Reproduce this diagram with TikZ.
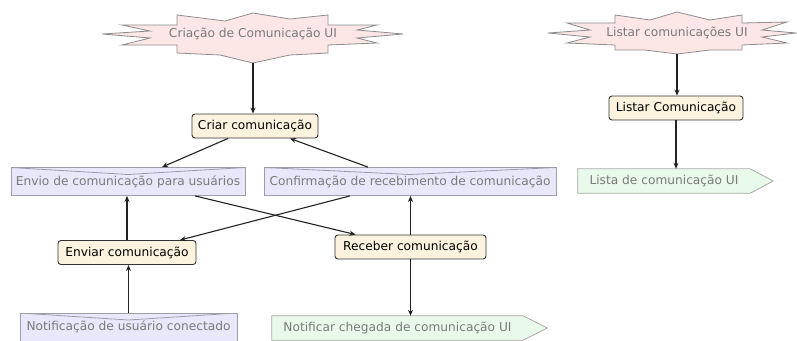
\documentclass[tikz,border=0pt]{standalone}
\usepackage{fontspec}
\setmainfont{DejaVu Sans}
\usetikzlibrary{arrows.meta,backgrounds}
\definecolor{boxfill}{HTML}{FCF3DF}
\definecolor{boxline}{HTML}{333333}
\definecolor{bluefill}{HTML}{E8E8FA}
\definecolor{blueline}{HTML}{9C9CAC}
\definecolor{greenfill}{HTML}{EAFAEA}
\definecolor{greenline}{HTML}{A8A8A8}
\definecolor{pinkfill}{HTML}{FDE6E6}
\definecolor{pinkline}{HTML}{8C8C8C}
\definecolor{greytext}{HTML}{7A7A7A}
\definecolor{conn}{HTML}{222222}
\tikzset{
  x=1pt, y=-1pt,
  every node/.style={font=\fontsize{12.2}{14}\selectfont, inner sep=0pt},
  actbox/.style={draw=boxline, fill=boxfill, rounded corners=3pt, line width=0.9pt, minimum height=24pt, text=black},
  docbox/.style={draw=blueline, fill=bluefill, line width=0.8pt, minimum height=28pt, text=greytext,
    path picture={\draw[blueline, line width=0.8pt] (path picture bounding box.north west) -- ([yshift=-7pt]path picture bounding box.north) -- (path picture bounding box.north east);}},
  sigtext/.style={minimum height=24pt, text=greytext},
  sigshape/.style={draw=greenline, fill=greenfill, line width=0.8pt},
  startext/.style={text=greytext},
  starshape/.style={draw=pinkline, fill=pinkfill, line width=0.8pt, line join=miter},
  flow/.style={draw=conn, line width=1.1pt, -{Stealth[length=6pt,width=5pt]}}
}
\begin{document}
\begin{tikzpicture}
\useasboundingbox (0,0) rectangle (797,340);
% star 1
\path[starshape] (177,15) -- (225,21) -- (253,13) -- (290,19) -- (328,15) -- (328,25) -- (377,25) -- (357,30) -- (403,34) -- (357,38) -- (377,43) -- (328,45) -- (328,53) -- (290,55) -- (253,63) -- (220,55) -- (177,53) -- (177,45) -- (122,45) -- (150,38) -- (102,34) -- (150,31) -- (122,25) -- (177,25) -- cycle;
\node[startext] (s1) at (253,34) {Criação de Comunicação UI};
\coordinate (s1b) at (253,63);
% star 2
\path[starshape] (615,15) -- (650,20) -- (677,12) -- (710,20) -- (742,15) -- (742,23) -- (787,22) -- (762,30) -- (796,33) -- (762,37) -- (787,43) -- (742,45) -- (742,50) -- (710,50) -- (677,54) -- (645,50) -- (615,50) -- (615,45) -- (567,43) -- (590,37) -- (548,33) -- (590,30) -- (567,23) -- (615,23) -- cycle;
\node[startext] (s2) at (677,33) {Listar comunicações UI};
\coordinate (s2b) at (677,54);
% activity boxes
\node[actbox, minimum width=126pt] (criar) at (255,126) {Criar comunicação};
\node[actbox, minimum width=134pt] (listarC) at (676,108) {Listar Comunicação};
\node[actbox, minimum width=138pt] (enviar) at (127,252.5) {Enviar comunicação};
\node[actbox, minimum width=151pt] (receber) at (410.5,247) {Receber comunicação};
% document boxes
\node[docbox, minimum width=234pt] (envio) at (128,181.5) {Envio de comunicação para usuários};
\node[docbox, minimum width=292pt] (confirm) at (410,181.5) {Confirmação de recebimento de comunicação};
\node[docbox, minimum width=217pt] (notif) at (128.5,327) {Notificação de usuário conectado};
% signal shapes
\node[sigtext, minimum width=172pt] (lista) at (664,181) {Lista de comunicação UI};
\node[sigtext, minimum width=251pt] (notificar) at (397.5,328) {Notificar chegada de comunicação UI};
\begin{scope}[on background layer]
\path[sigshape] (lista.north west) -- (lista.north east) -- ([xshift=23pt]lista.east) -- (lista.south east) -- (lista.south west) -- cycle;
\path[sigshape] (notificar.north west) -- (notificar.north east) -- ([xshift=24pt]notificar.east) -- (notificar.south east) -- (notificar.south west) -- cycle;
\end{scope}
% connectors
\draw[flow] (s1b) -- (s1b |- criar.north);
\draw[flow] (s2b) -- (s2b |- listarC.north);
\draw[flow] (listarC.south) -- (listarC.south |- lista.north);
\draw[flow] ([xshift=-27pt]criar.south) -- ([xshift=34pt]envio.north);
\draw[flow] ([xshift=-42pt]confirm.north) -- ([xshift=35pt]criar.south);
\draw[flow] (enviar.north) -- (enviar.north |- envio.south);
\draw[flow] (notif.north) -- (notif.north |- enviar.south);
\draw[flow] ([xshift=67pt]envio.south) -- ([xshift=-55pt]receber.north);
\draw[flow] ([xshift=-60pt]confirm.south) -- ([xshift=53pt]enviar.north);
\draw[flow] (receber.north) -- (receber.north |- confirm.south);
\draw[flow] (receber.south) -- (receber.south |- notificar.north);
\end{tikzpicture}
\end{document}
